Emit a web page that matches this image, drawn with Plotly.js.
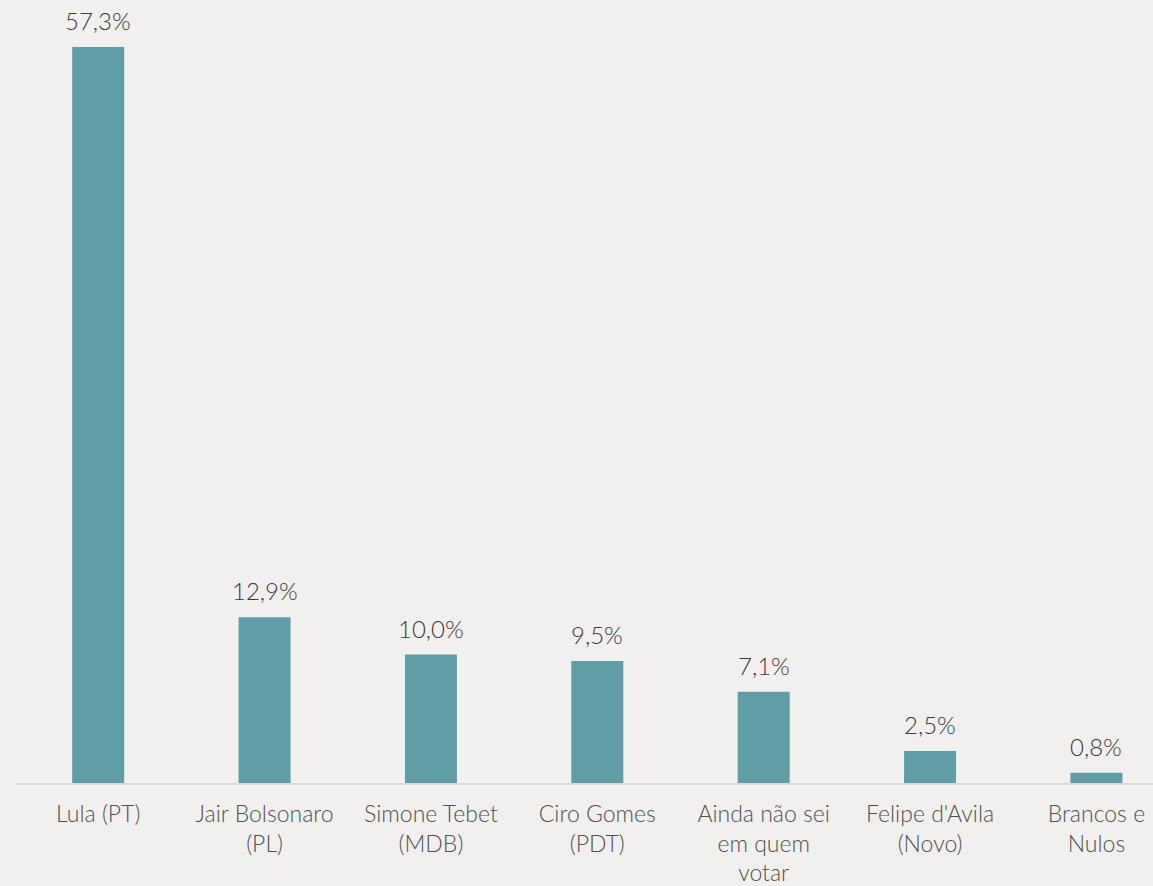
<!DOCTYPE html>
<html>
<head>
<meta charset="utf-8">
<script src="https://cdn.plot.ly/plotly-3.0.1.min.js"></script>
<style>html,body{margin:0;padding:0;background:#f1f0ee;}</style>
</head>
<body>
<div id="chart" style="width:1153px;height:886px;"></div>
<script>
const categories = ["Lula (PT)", "Jair Bolsonaro<br>(PL)", "Simone Tebet<br>(MDB)", "Ciro Gomes<br>(PDT)", "Ainda não sei<br>em quem<br>votar", "Felipe d'Avila<br>(Novo)", "Brancos e<br>Nulos"];
const values = [57.3, 12.9, 10.0, 9.5, 7.1, 2.5, 0.8];
const valueLabels = ["57,3%", "12,9%", "10,0%", "9,5%", "7,1%", "2,5%", "0,8%"];

const font = "Lato, 'Open Sans', sans-serif";

const trace = {
  type: 'bar',
  x: categories,
  y: values,
  width: 0.3125,
  marker: {color: '#5f9da7'},
  hoverinfo: 'none'
};

const annotations = categories.map((c, i) => ({
  x: c, y: values[i], xref: 'x', yref: 'y',
  text: valueLabels[i], showarrow: false,
  yanchor: 'bottom', yshift: 10,
  font: {family: font, size: 24, weight: 300, color: '#3a3a3a'}
}));

const layout = {
  width: 1153, height: 886,
  paper_bgcolor: '#f1f0ee', plot_bgcolor: '#f1f0ee',
  margin: {l: 15, r: 0, t: 0, b: 103},
  showlegend: false,
  xaxis: {
    type: 'category',
    range: [-0.5, 6.34],
    showline: true, linecolor: '#d9d9d9', linewidth: 2,
    ticks: '', showgrid: false, zeroline: false,
    automargin: false, fixedrange: true,
    ticklabelstandoff: 9,
    tickfont: {family: font, size: 23, weight: 300, color: '#505050'}
  },
  yaxis: {
    range: [0, 60.96],
    visible: false, showgrid: false, zeroline: false,
    fixedrange: true
  },
  annotations: annotations
};

Plotly.newPlot('chart', [trace], layout, {displayModeBar: false, staticPlot: true});
</script>
</body>
</html>
